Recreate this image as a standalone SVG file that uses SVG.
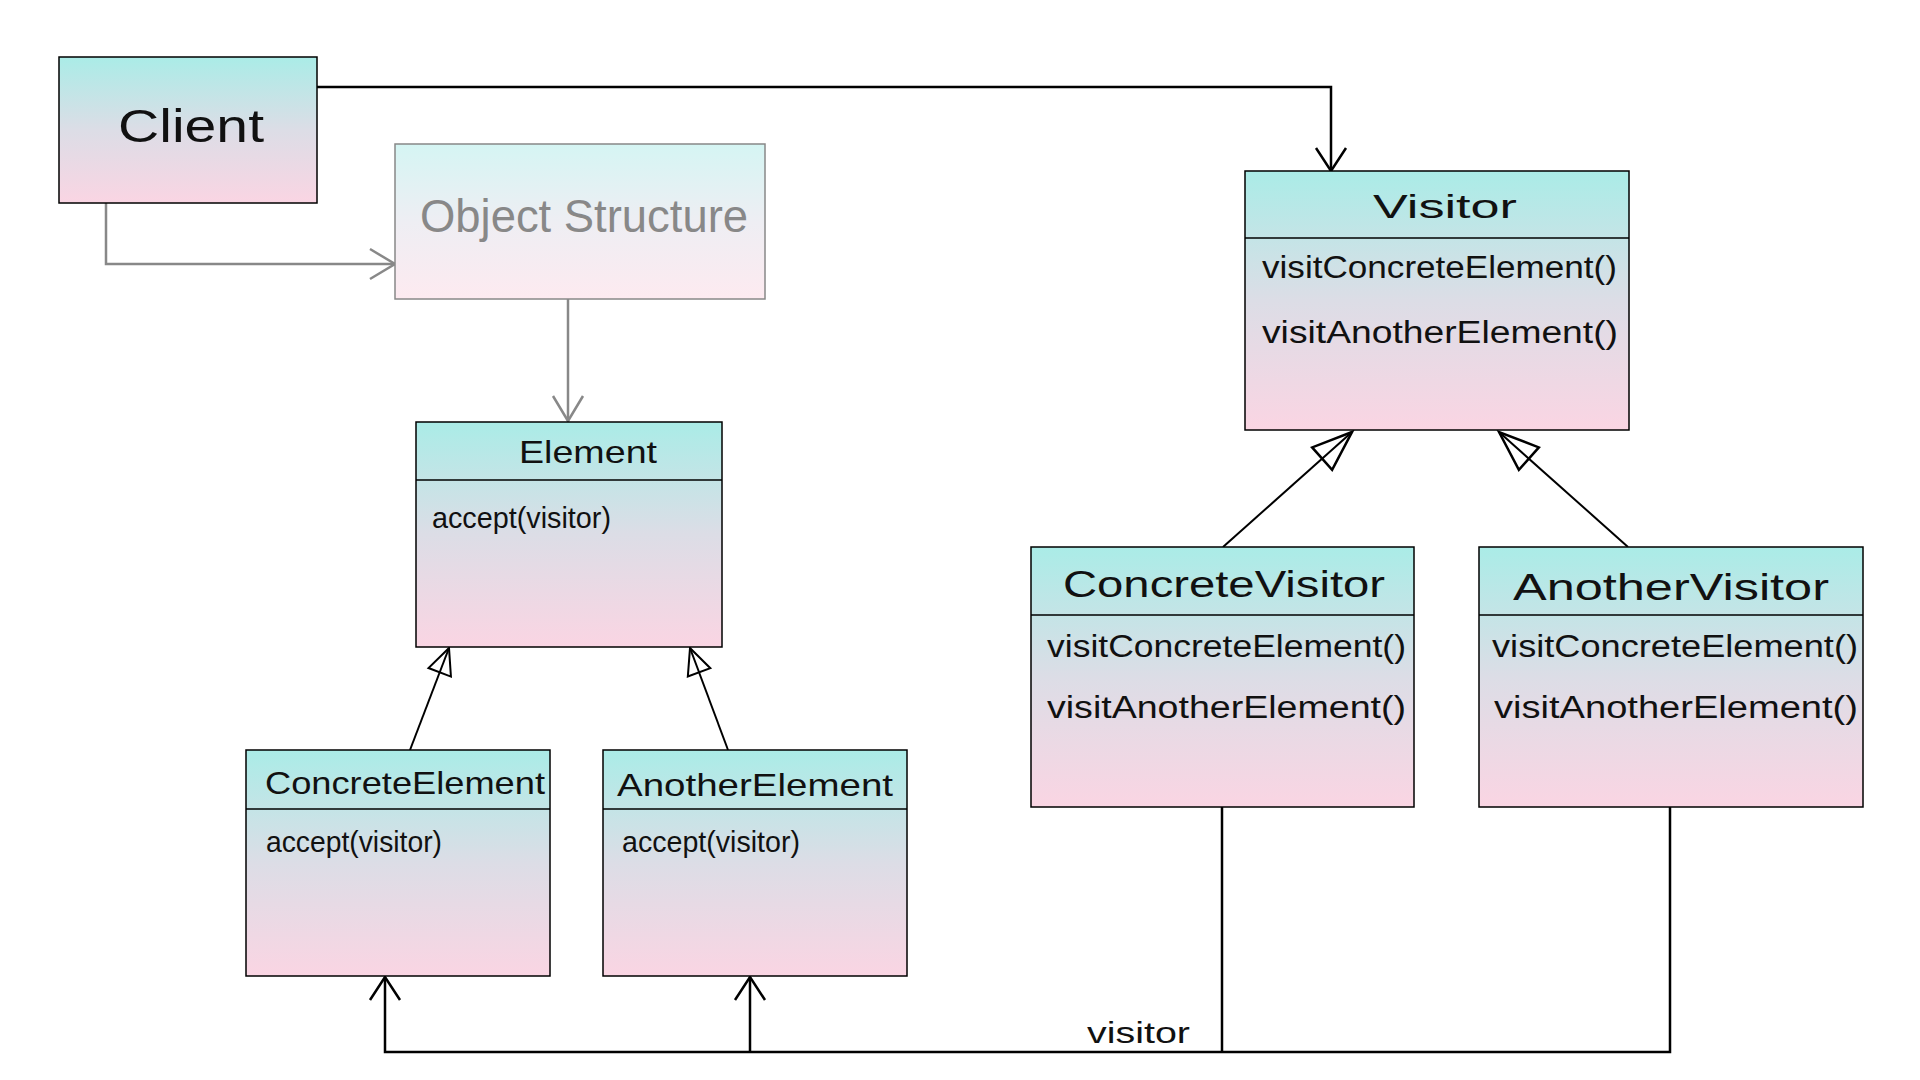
<svg xmlns="http://www.w3.org/2000/svg" width="1920" height="1080" viewBox="0 0 1920 1080">
<style>
.box{stroke:#000;stroke-width:1.5;fill:url(#g)}
.light{stroke:#888;stroke-width:1.5;fill:url(#gl)}
.div{stroke:#000;stroke-width:1.5}
.t{font-family:"Liberation Sans","DejaVu Sans",sans-serif;fill:#111}
.title{font-size:34px}
.m{font-size:31px}
.ln{fill:none;stroke:#000;stroke-width:2.5}
.gl{fill:none;stroke:#888;stroke-width:2.5}
.inh{fill:none;stroke:#000;stroke-width:2}
</style>
<defs>
<linearGradient id="g" x1="0" y1="0" x2="0" y2="1">
<stop offset="0" stop-color="#aaece7"/>
<stop offset="0.5" stop-color="#dcdde6"/>
<stop offset="1" stop-color="#fad5e3"/>
</linearGradient>
<linearGradient id="gl" x1="0" y1="0" x2="0" y2="1">
<stop offset="0" stop-color="#d5f5f3"/>
<stop offset="0.5" stop-color="#eeeef3"/>
<stop offset="1" stop-color="#fdeaf0"/>
</linearGradient>
<marker id="open" markerUnits="userSpaceOnUse" viewBox="-30 -20 40 40" markerWidth="40" markerHeight="40" refX="0" refY="0" orient="auto">
<path d="M-23,-15 L0,0 L-23,15" fill="none" stroke="#000" stroke-width="2.5"/>
</marker>
<marker id="openGray" markerUnits="userSpaceOnUse" viewBox="-30 -20 40 40" markerWidth="40" markerHeight="40" refX="0" refY="0" orient="auto">
<path d="M-25,-15 L0,0 L-25,15" fill="none" stroke="#888" stroke-width="2.5"/>
</marker>
<marker id="triS" markerUnits="userSpaceOnUse" viewBox="-30 -20 40 40" markerWidth="40" markerHeight="40" refX="0" refY="0" orient="auto">
<path d="M0,0 L-26,-12 L-26,12 Z" fill="none" stroke="#000" stroke-width="2"/>
</marker>
<marker id="triL" markerUnits="userSpaceOnUse" viewBox="-50 -25 60 50" markerWidth="60" markerHeight="50" refX="0" refY="0" orient="auto">
<path d="M0,0 L-40,-15 L-40,15 Z" fill="none" stroke="#000" stroke-width="2.5"/>
</marker>
</defs>
<rect width="1920" height="1080" fill="#fff"/>

<g id="connectors">
<path class="ln" d="M317,87 L1331,87 L1331,171" marker-end="url(#open)"/>
<path class="gl" d="M106,203 L106,264 L395,264" marker-end="url(#openGray)"/>
<path class="gl" d="M568,299 L568,421" marker-end="url(#openGray)"/>
<path class="inh" d="M410,750 L449,648" marker-end="url(#triS)"/>
<path class="inh" d="M728,750 L690,648" marker-end="url(#triS)"/>
<path class="inh" d="M1223,547 L1352,432" marker-end="url(#triL)"/>
<path class="inh" d="M1628,547 L1499,432" marker-end="url(#triL)"/>
<path class="ln" d="M1222,807 L1222,1052"/>
<path class="ln" d="M1670,807 L1670,1052 L385,1052 L385,977" marker-end="url(#open)"/>
<path class="ln" d="M750,1052 L750,977" marker-end="url(#open)"/>
<text class="t" x="1087" y="1043" font-size="30" textLength="103" lengthAdjust="spacingAndGlyphs">visitor</text>
</g>

<g id="client">
<rect class="box" x="59" y="57" width="258" height="146"/>
<text class="t" x="118" y="142" font-size="46" textLength="146" lengthAdjust="spacingAndGlyphs">Client</text>
</g>

<g id="objectStructure">
<rect class="light" x="395" y="144" width="370" height="155"/>
<text class="t" x="420" y="232" font-size="46" fill="#888" style="fill:#888" textLength="328" lengthAdjust="spacingAndGlyphs">Object Structure</text>
</g>

<g id="visitor">
<rect class="box" x="1245" y="171" width="384" height="259"/>
<line class="div" x1="1245" y1="238" x2="1629" y2="238"/>
<text class="t title" x="1373" y="218" textLength="144" lengthAdjust="spacingAndGlyphs">Visitor</text>
<text class="t m" x="1262" y="278" textLength="355" lengthAdjust="spacingAndGlyphs">visitConcreteElement()</text>
<text class="t m" x="1262" y="343" textLength="356" lengthAdjust="spacingAndGlyphs">visitAnotherElement()</text>
</g>

<g id="element">
<rect class="box" x="416" y="422" width="306" height="225"/>
<line class="div" x1="416" y1="480" x2="722" y2="480"/>
<text class="t" x="519" y="463" font-size="32" textLength="138" lengthAdjust="spacingAndGlyphs">Element</text>
<text class="t" x="432" y="528" font-size="30" textLength="179" lengthAdjust="spacingAndGlyphs">accept(visitor)</text>
</g>

<g id="concreteElement">
<rect class="box" x="246" y="750" width="304" height="226"/>
<line class="div" x1="246" y1="809" x2="550" y2="809"/>
<text class="t" x="265" y="794" font-size="32" textLength="280" lengthAdjust="spacingAndGlyphs">ConcreteElement</text>
<text class="t" x="266" y="852" font-size="30" textLength="176" lengthAdjust="spacingAndGlyphs">accept(visitor)</text>
</g>

<g id="anotherElement">
<rect class="box" x="603" y="750" width="304" height="226"/>
<line class="div" x1="603" y1="809" x2="907" y2="809"/>
<text class="t" x="617" y="796" font-size="32" textLength="276" lengthAdjust="spacingAndGlyphs">AnotherElement</text>
<text class="t" x="622" y="852" font-size="30" textLength="178" lengthAdjust="spacingAndGlyphs">accept(visitor)</text>
</g>

<g id="concreteVisitor">
<rect class="box" x="1031" y="547" width="383" height="260"/>
<line class="div" x1="1031" y1="615" x2="1414" y2="615"/>
<text class="t" x="1063" y="597" font-size="37" textLength="322" lengthAdjust="spacingAndGlyphs">ConcreteVisitor</text>
<text class="t m" x="1047" y="657" textLength="359" lengthAdjust="spacingAndGlyphs">visitConcreteElement()</text>
<text class="t m" x="1047" y="718" textLength="359" lengthAdjust="spacingAndGlyphs">visitAnotherElement()</text>
</g>

<g id="anotherVisitor">
<rect class="box" x="1479" y="547" width="384" height="260"/>
<line class="div" x1="1479" y1="615" x2="1863" y2="615"/>
<text class="t" x="1513" y="600" font-size="37" textLength="316" lengthAdjust="spacingAndGlyphs">AnotherVisitor</text>
<text class="t m" x="1492" y="657" textLength="366" lengthAdjust="spacingAndGlyphs">visitConcreteElement()</text>
<text class="t m" x="1494" y="718" textLength="364" lengthAdjust="spacingAndGlyphs">visitAnotherElement()</text>
</g>
</svg>
